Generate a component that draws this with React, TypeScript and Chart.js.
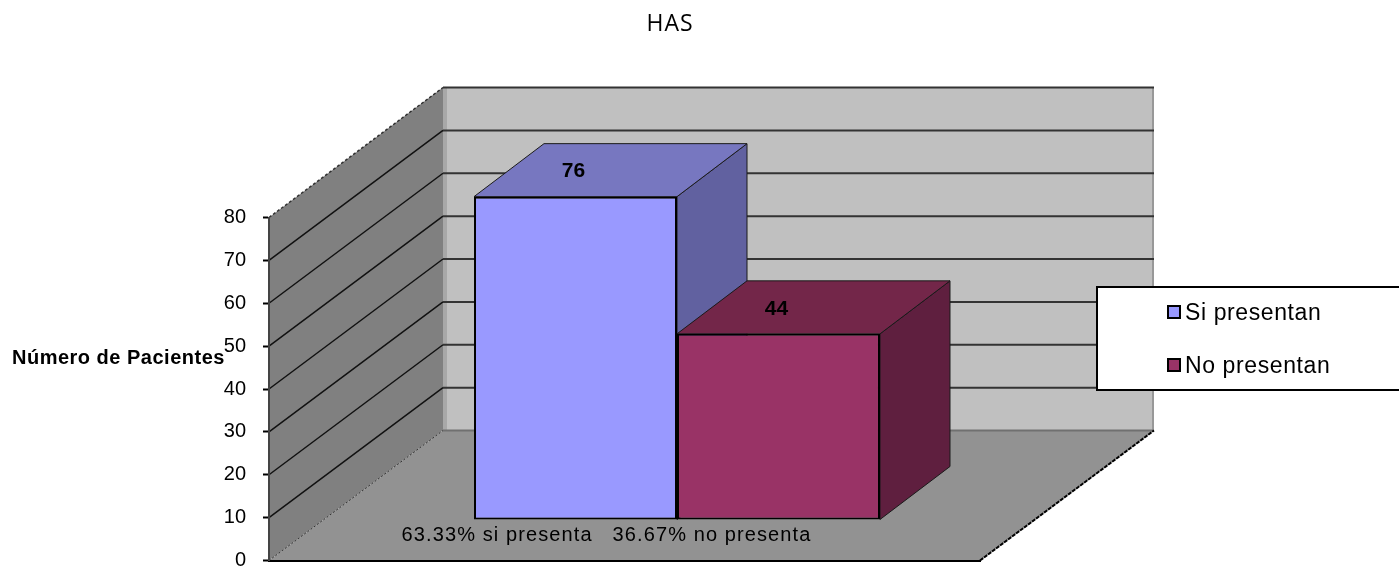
import React, { useEffect, useRef } from "react";
import { Chart, registerables } from "chart.js";

Chart.register(...registerables);

const chartTitle = "HAS";
const valueAxisTitle = "Número de Pacientes";
const categories = ["63.33% si presenta   36.67% no presenta"];
const seriesNames = ["Si presentan", "No presentan"];
const siPresentan = [76];
const noPresentan = [44];
const frontColors = ["#9999FF", "#993366"];
const topColors = ["#7777C0", "#732649"];
const sideColors = ["#6161A0", "#5F1F3F"];

// Oblique projection: offset of the back wall and of the bars from the front plane.
const WALL_DX = 174;
const WALL_DY = 130;
const BAR_DX = 52.5;
const BAR_DY = 38;
const BAR_DEPTH_DX = 70;
const BAR_DEPTH_DY = 53;

const SANS = '"Liberation Sans", Arial, sans-serif';

function poly(ctx: CanvasRenderingContext2D, pts: number[][], fill: string) {
  ctx.beginPath();
  pts.forEach((p, i) => (i ? ctx.lineTo(p[0], p[1]) : ctx.moveTo(p[0], p[1])));
  ctx.closePath();
  ctx.fillStyle = fill;
  ctx.fill();
}

function line(
  ctx: CanvasRenderingContext2D,
  x1: number,
  y1: number,
  x2: number,
  y2: number,
  color: string,
  width: number,
  dash: number[] = []
) {
  ctx.save();
  ctx.beginPath();
  ctx.setLineDash(dash);
  ctx.moveTo(x1, y1);
  ctx.lineTo(x2, y2);
  ctx.strokeStyle = color;
  ctx.lineWidth = width;
  ctx.stroke();
  ctx.restore();
}

function label(
  ctx: CanvasRenderingContext2D,
  text: string,
  x: number,
  y: number,
  font: string,
  align: CanvasTextAlign = "center",
  spacing = "0px"
) {
  ctx.save();
  ctx.font = font;
  ctx.fillStyle = "#000";
  ctx.textAlign = align;
  ctx.textBaseline = "middle";
  (ctx as any).letterSpacing = spacing;
  ctx.fillText(text, x, y);
  ctx.restore();
}

const perspective = {
  id: "perspective",
  // Walls and floor sit behind the axes.
  beforeDraw(chart: any) {
    const { ctx, scales } = chart;
    const x0 = scales.x.left;
    const x1 = scales.x.right;
    const y0 = scales.y.getPixelForValue(0);
    const yMax = scales.y.getPixelForValue(80);
    ctx.save();
    poly(ctx, [[x0 + WALL_DX, yMax - WALL_DY], [x1 + WALL_DX, yMax - WALL_DY], [x1 + WALL_DX, y0 - WALL_DY], [x0 + WALL_DX, y0 - WALL_DY]], "#C0C0C0");
    poly(ctx, [[x0, yMax], [x0 + WALL_DX, yMax - WALL_DY], [x0 + WALL_DX, y0 - WALL_DY], [x0, y0]], "#808080");
    poly(ctx, [[x0, y0], [x1, y0], [x1 + WALL_DX, y0 - WALL_DY], [x0 + WALL_DX, y0 - WALL_DY]], "#929292");
    line(ctx, x0 + WALL_DX + 2, yMax - WALL_DY, x0 + WALL_DX + 2, y0 - WALL_DY, "#A8A8A8", 4);
    line(ctx, x1 + WALL_DX - 1, yMax - WALL_DY, x1 + WALL_DX - 1, y0 - WALL_DY, "#989898", 2);
    for (const tick of scales.y.ticks) {
      const y = scales.y.getPixelForValue(tick.value);
      if (tick.value > 0) {
        line(ctx, x0, y, x0 + WALL_DX, y - WALL_DY, tick.value === 80 ? "#303030" : "#111", 1.5, tick.value === 80 ? [3, 2] : []);
      }
      line(ctx, x0 + WALL_DX, y - WALL_DY, x1 + WALL_DX, y - WALL_DY, tick.value === 0 ? "#707070" : "#333", 2);
    }
    line(ctx, x0, y0, x0 + WALL_DX, y0 - WALL_DY, "#333", 1, [2, 2]);
    line(ctx, x1, y0, x1 + WALL_DX, y0 - WALL_DY, "#000", 2, [4, 1]);
    ctx.restore();
  },
  // Side and top faces of each bar, then shift the library's bars onto the floor.
  beforeDatasetsDraw(chart: any) {
    const { ctx } = chart;
    [0, 1].forEach((i) => {
      const bar = chart.getDatasetMeta(i).data[0];
      const left = bar.x - bar.width / 2 + BAR_DX;
      const right = bar.x + bar.width / 2 + BAR_DX;
      const top = bar.y - BAR_DY;
      const base = bar.base - BAR_DY;
      const side = [[right, top], [right + BAR_DEPTH_DX, top - BAR_DEPTH_DY], [right + BAR_DEPTH_DX, base - BAR_DEPTH_DY], [right, base]];
      const lid = [[left, top], [left + BAR_DEPTH_DX, top - BAR_DEPTH_DY], [right + BAR_DEPTH_DX, top - BAR_DEPTH_DY], [right, top]];
      poly(ctx, side, sideColors[i]);
      ctx.strokeStyle = "#1a1a1a";
      ctx.lineWidth = 1;
      ctx.stroke();
      poly(ctx, lid, topColors[i]);
      ctx.stroke();
    });
    ctx.save();
    ctx.translate(BAR_DX, -BAR_DY);
  },
  afterDatasetsDraw(chart: any) {
    const { ctx, scales } = chart;
    ctx.restore();
    [siPresentan, noPresentan].forEach((values, i) => {
      const bar = chart.getDatasetMeta(i).data[0];
      label(ctx, String(values[0]), bar.x + BAR_DX - 2, bar.y - BAR_DY - 25, `bold 21px ${SANS}`);
    });
    label(ctx, categories[0], (scales.x.left + scales.x.right) / 2 - 18, 535, `20px ${SANS}`, "center", "1.1px");
  },
  afterDraw(chart: any) {
    const { ctx } = chart;
    label(ctx, chartTitle, 670, 24, '23px "Open Sans", sans-serif', "center", "1px");
    label(ctx, valueAxisTitle, 12, 358, `bold 20px ${SANS}`, "left", "0.5px");

    // Legend box runs off the right edge of the canvas.
    ctx.save();
    ctx.fillStyle = "#fff";
    ctx.strokeStyle = "#000";
    ctx.lineWidth = 2;
    ctx.fillRect(1097, 287, 310, 103);
    ctx.strokeRect(1097, 287, 310, 103);
    seriesNames.forEach((name, i) => {
      const y = i === 0 ? 312 : 365;
      ctx.fillStyle = frontColors[i];
      ctx.fillRect(1168, y - 6, 12, 12);
      ctx.strokeStyle = "#000";
      ctx.lineWidth = 2;
      ctx.strokeRect(1168, y - 6, 12, 12);
      label(ctx, name, 1185, y + 1.5, `23px ${SANS}`, "left", "0.6px");
    });
    ctx.restore();
  },
};

export default function App() {
  const ref = useRef<HTMLCanvasElement>(null);

  useEffect(() => {
    document.body.style.margin = "0";
    const chart = new Chart(ref.current!, {
      type: "bar",
      data: {
        labels: categories,
        datasets: [siPresentan, noPresentan].map((data, i) => ({
          label: seriesNames[i],
          data,
          backgroundColor: frontColors[i],
          borderColor: "#000",
          borderWidth: 2,
          borderSkipped: false,
          base: 0.7,
          clip: false,
          categoryPercentage: 0.571,
          barPercentage: 1,
        })),
      },
      options: {
        responsive: false,
        animation: false,
        layout: { padding: { left: 0, right: 419, top: 217.5, bottom: 11.5 } },
        plugins: { legend: { display: false }, title: { display: false }, tooltip: { enabled: false } },
        scales: {
          x: {
            grid: { display: false },
            border: { color: "#000", width: 2 },
            ticks: { display: false },
            afterFit: (axis: any) => {
              axis.height = 0;
            },
          },
          y: {
            min: 0,
            max: 80,
            afterFit: (axis: any) => {
              axis.width = 269;
              axis.paddingTop = 0;
              axis.paddingBottom = 0;
            },
            grid: { drawOnChartArea: false, drawTicks: true, tickLength: 6, tickColor: "#000", tickWidth: 2 },
            border: { color: "#444", width: 2 },
            ticks: { stepSize: 10, padding: 17, color: "#000", font: { family: "Liberation Sans", size: 20 } },
          },
        },
      },
      plugins: [perspective],
    } as any);
    return () => chart.destroy();
  }, []);

  return <canvas ref={ref} width={1399} height={572} style={{ display: "block" }} />;
}
